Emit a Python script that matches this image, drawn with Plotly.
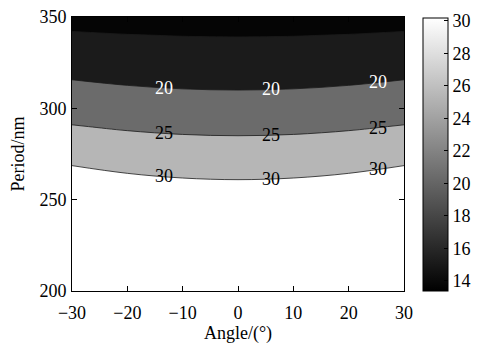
import numpy as np
import plotly.graph_objects as go

# ---- data ----
angles = [-30, -20, -10, 0, 10, 20, 30]
periods = [200, 250, 260, 270, 280, 290, 300, 310, 320, 330, 340, 350]
# value at each period for angles -30..30 (rows follow periods)
z_rows = [
    [45.0, 43.3, 42.3, 42.0, 42.3, 43.3, 45.0],   # 200
    [34.1, 33.1, 32.5, 32.3, 32.5, 33.1, 34.1],   # 250
    [31.9, 30.95, 30.39, 30.2, 30.39, 30.95, 31.9],  # 260
    [29.7, 28.8, 28.28, 28.1, 28.28, 28.8, 29.7],  # 270
    [27.45, 26.64, 26.16, 26.0, 26.16, 26.64, 27.45],  # 280
    [25.2, 24.53, 24.13, 24.0, 24.13, 24.53, 25.2],  # 290
    [23.15, 22.51, 22.13, 22.0, 22.13, 22.51, 23.15],  # 300
    [21.1, 20.48, 20.12, 20.0, 20.12, 20.48, 21.1],  # 310
    [19.15, 18.62, 18.3, 18.2, 18.3, 18.62, 19.15],  # 320
    [17.3, 16.85, 16.59, 16.5, 16.59, 16.85, 17.3],  # 330
    [15.4, 15.09, 14.91, 14.85, 14.91, 15.09, 15.4],  # 340
    [13.5, 13.33, 13.23, 13.2, 13.23, 13.33, 13.5],  # 350
]
fill_levels = [15, 30, 5]          # start, end, step
labelled_levels = [20, 25, 30]
label_colors = ["white", "black", "black"]
label_angles = [-13.4, 6.0, 25.3]
cbar_range = [13.4, 30.2]
cbar_ticks = [14, 16, 18, 20, 22, 24, 26, 28, 30]
x_ticks = [-30, -20, -10, 0, 10, 20, 30]
y_ticks = [200, 250, 300, 350]
x_title = "Angle/(°)"
y_title = "Period/nm"

FONT = "Liberation Serif"
FS = 18

fig = go.Figure()

band_scale = [[0.0, "#050505"], [0.25, "#1b1b1b"], [0.5, "#6b6b6b"],
              [0.75, "#b6b6b6"], [1.0, "#ffffff"]]

fig.add_trace(go.Contour(
    x=angles, y=periods, z=z_rows,
    autocontour=False,
    contours=dict(start=fill_levels[0], end=fill_levels[1], size=fill_levels[2],
                  coloring="fill", showlines=True),
    line=dict(color="#1a1a1a", width=0.8),
    colorscale=band_scale, showscale=False, hoverinfo="skip",
))

# continuous colorbar
fig.add_trace(go.Scatter(
    x=[angles[0]], y=[periods[0]], mode="markers",
    marker=dict(size=1, opacity=0, color=[cbar_range[0]],
                colorscale=[[0, "black"], [1, "white"]],
                cmin=cbar_range[0], cmax=cbar_range[1], showscale=True,
                colorbar=dict(x=1.0587, xanchor="left", xpad=0,
                              y=0.5, yanchor="middle", ypad=0,
                              thickness=25, len=273, lenmode="pixels",
                              outlinecolor="black", outlinewidth=1,
                              ticks="inside", ticklen=4, tickcolor="black",
                              tickvals=cbar_ticks,
                              tickfont=dict(family=FONT, size=FS, color="black"))),
    hoverinfo="skip", showlegend=False,
))

# contour labels placed on the level lines (period found from the data)
Z = np.array(z_rows, dtype=float)
P = np.array(periods, dtype=float)
annotations = []
for lev, col in zip(labelled_levels, label_colors):
    for a in label_angles:
        zcol = np.array([np.interp(a, angles, row) for row in Z])
        p = float(np.interp(lev, zcol[::-1], P[::-1]))
        annotations.append(dict(x=a, y=p, xref="x", yref="y", text=str(lev),
                                showarrow=False, xanchor="center", yanchor="middle",
                                font=dict(family=FONT, size=FS, color=col)))

# y-axis title
annotations.append(dict(x=-0.164, y=0.5, xref="paper", yref="paper", text=y_title,
                        textangle=-90, showarrow=False, xanchor="center", yanchor="middle",
                        font=dict(family=FONT, size=FS, color="black")))

axis_common = dict(showline=True, linecolor="black", linewidth=1, mirror="ticks",
                   ticks="inside", ticklen=5, tickcolor="black",
                   showgrid=False, zeroline=False, automargin=False,
                   tickfont=dict(family=FONT, size=FS, color="black"))

fig.update_layout(
    width=488, height=344,
    margin=dict(l=72, r=75, t=17, b=53),
    paper_bgcolor="white", plot_bgcolor="white",
    font=dict(family=FONT, size=FS, color="black"),
    showlegend=False,
    annotations=annotations,
    xaxis=dict(range=[-30, 30], tickvals=x_ticks, ticklabelstandoff=5,
               title=dict(text=x_title, font=dict(family=FONT, size=FS, color="black")),
               **axis_common),
    yaxis=dict(range=[200, 350], tickvals=y_ticks, ticklabelstandoff=1,
               **axis_common),
)

fig.write_html("out.html")
